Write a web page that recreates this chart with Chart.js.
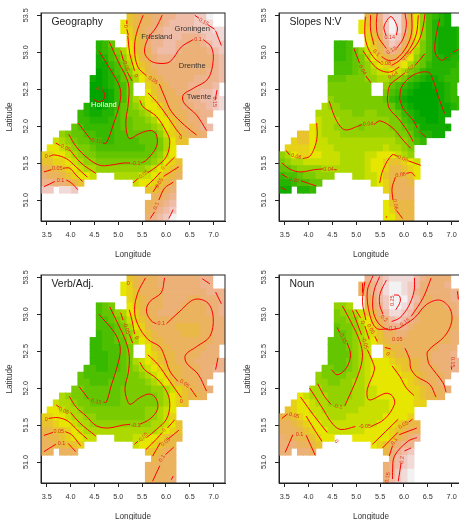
<!DOCTYPE html>
<html>
<head>
<meta charset="utf-8">
<style>
  html, body { margin: 0; background: #fff; width: 459px; height: 520px; overflow: hidden; position: relative; }
  canvas { position: absolute; filter: blur(0.3px); }
</style>
<script src="https://cdn.jsdelivr.net/npm/chart.js@4"></script>
</head>
<body>
<canvas id="mapaGeo" width="230" height="260" style="left:0;top:0"></canvas>
<canvas id="mapaSlopes" width="230" height="260" style="left:238px;top:0"></canvas>
<canvas id="mapaVerb" width="230" height="260" style="left:0;top:262px"></canvas>
<canvas id="mapaNoun" width="230" height="260" style="left:238px;top:262px"></canvas>
<script>
const xTicks = [3.5, 4.0, 4.5, 5.0, 5.5, 6.0, 6.5, 7.0];
const yTicks = [51.0, 51.5, 52.0, 52.5, 53.0, 53.5];

const lonCells = [3.444, 3.573, 3.701, 3.830, 3.959, 4.087, 4.216, 4.345, 4.473, 4.602, 4.731, 4.859, 4.988, 5.116, 5.245,
  5.374, 5.502, 5.631, 5.760, 5.888, 6.017, 6.146, 6.274, 6.403, 6.531, 6.660, 6.789, 6.917, 7.046, 7.175];
const latEdges = [53.530, 53.436, 53.342, 53.249, 53.155, 53.061, 52.967, 52.873, 52.780, 52.686, 52.592, 52.498, 52.404,
  52.311, 52.217, 52.123, 52.029, 51.935, 51.842, 51.748, 51.654, 51.560, 51.466, 51.373, 51.279, 51.185, 51.091, 50.997,
  50.904, 50.810, 50.716];

// terrain colours, the letters in the rows below are base 21 steps of this list
const terrain = ['#00a600', '#11ac00', '#24b300', '#37b900', '#4cbf00', '#63c600', '#7acc00', '#93d200', '#add900', '#c9df00',
  '#e6e600', '#e7d217', '#e8c32e', '#e9b846', '#ebb35e', '#ecb176', '#edb48e', '#eebca7', '#f0cac0', '#f1dbd9', '#f2f2f2'];

// one string per row of the grid, north to south, '.' = no data
const cellsGeo = [
  '..............cdeeffgghhhiik',
  '.............acdeeffghhhhiij',
  '.............abdeffghhhhhhiijj',
  '..............bcdfgghhhggghiij',
  '.........235..acdfgghhggffghii',
  '.........23468acdeghhhgffffghi',
  '.........124579bdefgggffffffgh',
  '.........113468acdffffffffffgh',
  '.........0124579bdeffffffffggh',
  '........10123568acdefffffggggh',
  '........0012346..bcdefffggggh',
  '........0001346..acdeeffgghhi',
  '........000134689abdeeefgghhij',
  '.......2101235678aabdeeffgghij',
  '......321122456678aacdeeffgg',
  '......3322234556678aacdeffg',
  '.....543333345566678abdeefgh',
  '...765544333445555579bcdeef',
  '..9876554433444455568acc',
  '.aa987665444444445568a',
  'bbaa98766555555555679a',
  'ccbba987766666666678abc',
  'eddcba9887777777789abcd',
  'feedcbaa9...888899abcde',
  'ggffedc........9aabcde',
  'ii.jji...........ccdef',
  '..................eefg',
  '.................eefgh',
  '.................efghi',
  '.................fghik'
];
const cellsSlopes = [
  '..............ddgijjgda74321',
  '.............acdfikjgda74221',
  '.............abdfikjgda7421112',
  '..............bcehjifca7421112',
  '.........334..acdgihec96421112',
  '.........334579bdfgfdb86421112',
  '.........334568acdedca75422122',
  '.........4445679abcba865322223',
  '.........444567899a98653222233',
  '........5556667788776432112333',
  '........6666666..754321001123',
  '........6666666..643210000123',
  '........7666666665321000001233',
  '.......87766666666532100001123',
  '......8887776677666532100011',
  '......988877777777664311001',
  '.....a9887777677776654311111',
  '...cca988877777777766532211',
  '..bcca998888888888877643',
  '.bbbba9998888888898876',
  '78abbaa999888899aaa987',
  '678899999988889aabccba9',
  '556777788888889aabddcba',
  '344566777...8899acdddca',
  '2234455........9abdeed',
  '11.223...........bdeee',
  '..................deee',
  '.................acddd',
  '.................abddd',
  '.................aacdd'
];
const cellsVerb = [
  '..............cdeeefffffffgg',
  '.............abdeeefffffffgg',
  '.............abceeeefffffffggg',
  '..............bcdeeeffffeefffg',
  '.........456..acdeeefffeeeeffg',
  '.........45578abdeefffeeeeeffg',
  '.........445679bcdeeeeeeeeeeff',
  '.........444568abdeeeeddddeeff',
  '.........3445679bcdeeeedddeeff',
  '........33445578abddeeeeeeeeff',
  '........3344456..acddeeeeeeff',
  '........3334456..abcddeeeefff',
  '........333445689abcddeeeffffg',
  '.......44334456789abcddeeeffgg',
  '......5444445566789abddeeeff',
  '......55444555666789acddeef',
  '.....66555555666667789bcdeef',
  '...876655555566666678abcdde',
  '..9887665555566666678abc',
  '.aa988766666666667789a',
  'bbaa98877666666667789b',
  'ccbaa9887777777777889ac',
  'ddccba98888888888889abc',
  'eddcbaa99...88899aabcdd',
  'eeddccb........9aabcdd',
  'ee.eee...........ccdee',
  '..................deee',
  '.................eeeee',
  '.................eeeee',
  '.................eeeef'
];
const cellsNoun = [
  '..............ghhijjjjhgffff',
  '.............efghjkkjihffffg',
  '.............efghjkkjigfffffgg',
  '..............efhikkkihfefffgg',
  '.........778..dfgikkjigfeeeffg',
  '.........67789cdfhjjihfeeeeefg',
  '.........66779acefhihgfeeeeeef',
  '.........56678abdfgggfeeeeeeef',
  '.........556789bceeffeeeeeeeff',
  '........5556789acdeeeeeeeeeeff',
  '........5556789..cddeeeeeefff',
  '........5555789..bcddeeeefffg',
  '........5556789aaabccddeefffgg',
  '.......66556789aaaabccdeeeffgg',
  '......766667789aaaaabbcdeeef',
  '......776677889aaaaaabcdeef',
  '.....88777778899aaaaabbcdeef',
  '...a988877778899aaaaaabcdde',
  '..baa9887778889999aaaabb',
  '.cbaa9988888899999aaaa',
  'ddcbaa99888999999aaaab',
  'eedcbaa999999999aaabcdd',
  'eeedcbaa999999aaaabcdee',
  'feeddcbaa...aaaaaabdefg',
  'fffeedc........abcefgg',
  'ff.ffe...........dfghi',
  '..................fhij',
  '.................fghij',
  '.................fgijk',
  '.................fhijk'
];

// contour pieces as lon,lat,lon,lat...
const linesGeo = [
  [5.18,53.43, 5.18,53.38], [5.18,53.31, 5.21,53.23],
  [5.05,53.02, 5.11,52.88], [5.19,52.73, 5.29,52.61],
  [5.20,53.22, 5.24,52.98, 5.31,52.82, 5.34,52.75],
  [5.52,53.50, 5.38,53.25, 5.34,53.03, 5.41,52.80, 5.59,52.68],
  [5.86,52.57, 5.97,52.40, 6.11,52.20, 6.39,52.01, 6.64,51.88],
  [5.92,53.50, 5.80,53.34, 5.62,53.18, 5.55,53.00, 5.66,52.89, 5.83,52.85, 6.08,52.87, 6.32,53.07, 6.57,53.17],
  [6.78,53.17, 6.95,53.07, 6.99,52.89, 6.88,52.64, 6.57,52.51, 6.36,52.42, 6.38,52.31, 6.64,52.15, 6.85,51.94],
  [5.62,52.45, 5.80,52.33, 6.01,52.15, 6.22,51.95, 6.31,51.88],
  [6.60,53.50, 6.69,53.46], [6.88,53.37, 7.02,53.31], [7.04,53.29, 7.16,53.09],
  [7.07,52.49, 7.03,52.35],
  [4.49,52.36, 4.58,52.33, 4.68,52.35, 4.72,52.42, 4.68,52.48],
  [4.59,53.02, 4.82,52.78, 5.04,52.51, 5.03,52.31, 4.89,52.01, 4.75,51.77, 4.68,51.77],
  [4.42,51.82, 4.16,52.04],
  [4.81,53.14, 5.00,52.87, 5.21,52.58, 5.21,52.31, 5.16,52.08, 5.18,51.90, 5.24,51.83, 5.45,51.90, 5.69,51.94, 5.80,51.88, 5.80,51.72, 5.59,51.54, 5.48,51.50],
  [5.25,51.50, 5.10,51.50, 4.82,51.47, 4.61,51.47, 4.37,51.56, 4.12,51.72, 3.96,51.89],
  [5.45,52.35, 5.52,52.26, 5.80,52.13, 6.01,51.92, 6.08,51.79, 6.01,51.59, 5.80,51.45, 5.62,51.37],
  [5.41,51.29, 5.31,51.23],
  [3.69,51.77, 3.77,51.74], [3.98,51.68, 4.22,51.50, 4.53,51.36],
  [3.55,51.59, 3.66,51.61, 3.91,51.56, 4.11,51.45, 4.35,51.31],
  [3.44,51.38, 3.60,51.41], [3.84,51.43, 3.98,51.43, 4.11,51.34, 4.25,51.25],
  [3.44,51.18, 3.67,51.25], [3.91,51.27, 4.02,51.23, 4.15,51.14],
  [5.58,51.18, 5.76,51.29, 5.89,51.38], [5.99,51.46, 6.18,51.58],
  [5.73,51.11, 5.83,51.21], [5.95,51.32, 6.27,51.45],
  [5.67,50.75, 5.76,50.84], [5.85,51.00, 5.97,51.16, 6.15,51.24],
  [6.06,50.75, 6.15,50.87]
];
const linesSlopes = [
  [5.62,53.23, 5.58,53.34, 5.67,53.455, 5.74,53.48, 5.86,53.34, 5.84,53.23],
  [5.44,53.53, 5.42,53.39, 5.46,53.21, 5.63,53.05], [5.84,53.05, 5.98,53.18, 6.05,53.37, 6.02,53.53],
  [5.30,53.50, 5.30,53.30, 5.37,53.10], [5.53,52.94, 5.67,52.89, 5.84,52.91, 6.05,53.07, 6.16,53.27, 6.16,53.52],
  [5.19,53.48, 5.18,53.23, 5.25,53.05, 5.39,52.91, 5.51,52.85], [5.74,52.82, 5.91,52.89, 6.12,53.05, 6.26,53.25, 6.30,53.50],
  [5.14,53.02, 5.28,52.89, 5.46,52.77, 5.70,52.73, 5.90,52.80], [6.12,52.99, 6.30,53.14, 6.40,53.34, 6.44,53.52],
  [4.95,53.05, 5.07,52.85], [5.20,52.68, 5.30,52.59],
  [5.91,52.37, 5.95,52.53, 6.19,52.69, 6.51,52.73, 6.61,52.62, 6.72,52.40, 6.85,52.17],
  [5.91,52.37, 5.98,52.24, 6.19,52.08, 6.28,51.97], [6.37,51.90, 6.46,51.85],
  [6.75,53.455, 6.67,53.21, 6.65,53.00, 6.78,52.89, 6.90,52.93], [7.03,53.00, 7.15,53.04],
  [6.91,51.99, 6.91,51.97],
  [5.65,52.37, 5.70,52.55, 5.88,52.65, 6.02,52.72], [6.23,52.82, 6.44,52.98],
  [5.65,52.37, 5.69,52.24, 5.91,52.08, 6.12,51.88, 6.19,51.79],
  [4.43,52.34, 4.58,52.08, 4.76,51.95, 5.04,52.00, 5.12,52.02],
  [5.37,52.02, 5.50,52.07, 5.77,51.97, 5.98,51.81, 6.14,51.70],
  [3.53,51.67, 3.60,51.61], [3.88,51.56, 4.02,51.59, 4.12,51.70, 4.18,51.86, 4.17,52.04],
  [3.44,51.50, 3.63,51.41, 3.84,51.38, 4.12,51.41, 4.30,51.42], [4.54,51.41, 4.59,51.41],
  [3.44,51.35, 3.56,51.30], [3.84,51.26, 4.16,51.19],
  [3.42,51.17, 3.53,51.135],
  [5.49,51.23, 5.56,51.41, 5.75,51.61, 5.88,51.59], [6.09,51.53, 6.35,51.47],
  [5.77,51.00, 5.75,51.16, 5.82,51.31], [6.05,51.36, 6.16,51.37, 6.23,51.32],
  [5.84,50.86, 5.97,50.75],
  [5.63,50.78, 5.63,50.76]
];
const linesVerb = [
  [5.23,53.06, 5.30,52.88, 5.34,52.73],
  [5.57,53.49, 5.41,53.29, 5.34,53.06, 5.41,52.86, 5.62,52.66, 5.87,52.56, 5.97,52.43, 6.08,52.23, 6.25,52.09],
  [6.51,52.00, 6.64,51.88],
  [5.97,53.49, 5.90,53.29, 5.66,53.17, 5.59,53.04, 5.69,52.91, 5.80,52.87],
  [6.01,52.87, 6.29,53.04, 6.60,53.20, 6.88,53.15, 6.99,52.95, 6.92,52.70, 6.64,52.56, 6.41,52.45, 6.43,52.34, 6.67,52.19, 6.85,51.96],
  [6.76,53.48, 6.92,53.41], [7.04,53.30, 7.16,53.14], [7.09,52.41, 7.04,52.25],
  [5.62,52.45, 5.83,52.32, 6.08,52.09, 6.32,51.87],
  [5.05,53.02, 5.10,52.92], [5.23,52.73, 5.30,52.61],
  [4.59,53.00, 4.92,52.75, 5.04,52.55, 4.99,52.32, 4.85,52.03, 4.75,51.81, 4.69,51.81],
  [4.38,51.85, 4.18,52.02],
  [4.82,53.10, 5.00,52.86, 5.16,52.63, 5.23,52.43, 5.21,52.21, 5.14,52.00, 5.18,51.85, 5.25,51.78, 5.45,51.87, 5.66,51.92, 5.80,51.85, 5.82,51.71, 5.66,51.58, 5.45,51.51],
  [5.25,51.51, 5.10,51.50, 4.79,51.46, 4.54,51.49, 4.33,51.62, 4.12,51.74, 3.97,51.89],
  [5.45,52.35, 5.55,52.25, 5.80,52.13, 6.01,51.96, 6.08,51.78, 6.01,51.58, 5.80,51.44, 5.59,51.33],
  [5.41,51.28, 5.34,51.24],
  [5.58,51.17, 5.80,51.31, 5.92,51.40], [6.03,51.46, 6.18,51.57],
  [5.72,51.08, 5.88,51.26], [6.04,51.31, 6.27,51.43],
  [5.72,50.74, 5.87,50.95], [5.99,51.10, 6.16,51.20],
  [6.11,50.76, 6.15,50.81],
  [3.70,51.77, 3.77,51.74], [4.00,51.67, 4.19,51.53, 4.53,51.35],
  [3.54,51.59, 3.74,51.60, 3.95,51.55, 4.16,51.42, 4.35,51.31],
  [3.44,51.36, 3.63,51.40], [3.89,51.41, 4.02,51.37, 4.21,51.22],
  [3.44,51.14, 3.69,51.24], [3.95,51.25, 4.11,51.14]
];
const linesNoun = [
  [5.79,53.26, 5.90,53.25, 5.92,53.17, 5.83,53.06],
  [5.63,53.46, 5.50,53.28, 5.49,53.13, 5.56,53.00], [5.74,52.90, 5.91,52.95, 6.09,53.10, 6.21,53.31, 6.22,53.49],
  [5.49,53.51, 5.37,53.31, 5.35,53.06, 5.46,52.88, 5.67,52.79, 5.88,52.81], [6.15,52.97, 6.40,53.22, 6.57,53.49],
  [5.35,53.52, 5.23,53.31, 5.28,53.00, 5.42,52.81, 5.67,52.80],
  [5.88,52.80, 6.22,52.95, 6.47,53.13, 6.75,53.19, 6.96,53.08, 7.00,52.90, 6.85,52.70, 6.50,52.50, 6.50,52.38, 6.53,52.32, 6.82,52.07, 6.88,51.95],
  [5.60,52.55, 5.72,52.53], [6.02,52.54, 6.12,52.39, 6.14,52.27, 6.26,52.16, 6.54,52.05, 6.67,51.88],
  [5.75,52.30, 5.91,52.16, 6.05,52.00, 6.21,51.90],
  [5.13,53.42, 5.13,53.29],
  [5.18,53.44, 5.13,53.17, 5.20,52.92], [5.39,52.70, 5.44,52.63],
  [4.99,53.06, 5.09,52.95], [5.18,52.84, 5.27,52.66],
  [4.92,53.05, 5.11,52.72], [5.23,52.52, 5.32,52.39, 5.38,52.25, 5.23,51.98, 5.27,51.84, 5.62,51.93, 5.76,51.89, 5.80,51.78, 5.59,51.58, 5.31,51.48],
  [4.98,51.48, 4.68,51.44, 4.51,51.51, 4.26,51.76, 4.02,52.00],
  [4.71,53.11, 4.90,52.88, 5.07,52.64, 5.13,52.43, 5.04,52.18, 4.76,51.76],
  [4.47,51.78, 4.33,51.89, 4.19,52.06],
  [3.83,51.88, 4.12,51.62, 4.39,51.40],
  [3.44,51.59, 3.56,51.65], [3.95,51.62, 4.12,51.44, 4.28,51.28],
  [3.51,51.13, 3.67,51.37], [3.95,51.36, 4.14,51.09],
  [5.34,51.24, 5.88,51.58],
  [5.55,51.19, 5.87,51.40], [6.10,51.54, 6.18,51.58],
  [5.69,51.08, 5.76,51.22], [5.90,51.37, 6.27,51.46],
  [5.76,50.77, 5.76,50.86, 5.80,51.08, 6.08,51.28, 6.27,51.33],
  [5.88,50.74, 5.94,50.99], [6.01,51.15, 6.15,51.19],
  [4.60,52.82, 4.65,52.75], [4.81,52.61, 4.88,52.45, 4.79,52.27, 4.60,52.18, 4.48,52.25],
  [7.00,52.25, 6.99,52.29], [7.12,53.31, 7.14,53.20]
];

// contour labels: text, lon, lat, angle
const labelsGeo = [
  ['0',5.18,53.35,-90], ['-0.05',5.16,52.82,70], ['0',5.37,52.68,60], ['0.05',5.73,52.62,35], ['0.1',6.67,53.17,0],
  ['0.15',6.79,53.41,30], ['0.15',7.02,52.33,90], ['0',6.31,51.84,0], ['-0.2',4.60,52.50,15], ['-0.15',4.53,51.80,10],
  ['-0.1',5.37,51.50,0], ['-0.05',5.52,51.34,-40], ['-0.05',3.88,51.71,25], ['0',3.49,51.59,0], ['0.05',3.72,51.42,0],
  ['0.1',3.79,51.26,0], ['0',5.94,51.43,-45], ['0.05',5.86,51.23,-60], ['0.1',5.80,50.92,-70]
];
const labelsSlopes = [
  ['0.14',5.70,53.20,0], ['0.12',5.74,53.02,-30], ['0.1',5.42,52.99,45], ['0.08',5.62,52.84,0], ['0.06',6.05,52.95,-45],
  ['0.04',5.13,52.76,60], ['0.04',5.77,52.69,-30], ['0.02',6.12,52.77,-40], ['0',6.98,52.96,-30], ['0',6.33,51.92,50],
  ['0.04',5.25,52.03,-5], ['0.06',3.74,51.59,15], ['0.04',4.42,51.41,0], ['0.02',3.70,51.27,15], ['0.06',5.98,51.56,20],
  ['0.08',5.93,51.34,-10], ['0.06',5.82,50.94,80]
];
const labelsVerb = [
  ['0',5.21,53.41,0], ['-0.05',5.17,52.81,70], ['0',5.38,52.68,60], ['0.1',5.90,52.87,0], ['0.05',6.39,52.06,35],
  ['0',6.32,51.82,0], ['-0.15',4.52,51.82,10], ['-0.1',5.37,51.50,0], ['-0.05',5.52,51.33,-45], ['-0.05',3.84,51.70,25],
  ['0',3.49,51.58,0], ['0.05',3.75,51.41,0], ['0.1',3.81,51.25,0], ['0',5.96,51.43,-45], ['0.05',5.99,51.27,-40], ['0.1',5.92,51.05,-60]
];
const labelsNoun = [
  ['0.25',5.76,53.18,-90], ['0.2',5.58,52.94,40], ['0.15',6.02,52.89,-35], ['0.1',5.77,52.80,0], ['0.05',5.86,52.66,0],
  ['0.15',7.01,52.35,90], ['0',5.66,52.46,45], ['0.05',5.30,52.80,60], ['0',5.13,52.89,70], ['-0.05',5.18,52.61,75],
  ['-0.1',4.61,51.75,5], ['-0.05',5.18,51.48,0], ['0',4.58,51.28,55], ['0.05',3.70,51.63,15], ['0.1',3.81,51.37,0],
  ['0.05',5.99,51.50,-30], ['0.1',5.80,51.28,-55], ['0.2',5.96,51.03,-85], ['0.15',5.66,50.79,-80], ['-0.15',4.72,52.68,65]
];

// place names on the first panel
const namesGeo = [['Friesland',5.81,53.20,'#333'], ['Groningen',6.55,53.32,'#333'], ['Drenthe',6.55,52.81,'#333'],
  ['Twente',6.69,52.40,'#333'], ['Holland',4.70,52.29,'#fff']];

const fontName = '"Liberation Sans", Arial, sans-serif';

// text on the map and the box round it
const mapaTextos = {
  id: 'mapaTextos',
  afterDatasetsDraw(chart, args, opts) {
    const ctx = chart.ctx, sx = chart.scales.x, sy = chart.scales.y, area = chart.chartArea;
    ctx.save();
    ctx.textAlign = 'center';
    ctx.textBaseline = 'middle';
    ctx.font = '5.4px ' + fontName;
    ctx.fillStyle = '#e2301c';
    opts.labels.forEach(l => {
      ctx.save();
      ctx.translate(sx.getPixelForValue(l[1]), sy.getPixelForValue(l[2]));
      ctx.rotate(l[3] * Math.PI / 180);
      ctx.fillText(l[0], 0, 0);
      ctx.restore();
    });
    ctx.font = '7.6px ' + fontName;
    opts.names.forEach(n => {
      ctx.fillStyle = n[3];
      ctx.fillText(n[0], sx.getPixelForValue(n[1]), sy.getPixelForValue(n[2]));
    });
    ctx.textAlign = 'left';
    ctx.font = '10.4px ' + fontName;
    ctx.fillStyle = '#222';
    ctx.fillText(opts.title, sx.getPixelForValue(3.6), sy.getPixelForValue(53.405));
    ctx.strokeStyle = '#222';
    ctx.lineWidth = 1;
    ctx.strokeRect(area.left, area.top, area.right - area.left, area.bottom - area.top);
    ctx.restore();
  }
};

function dibujarMapa(id, titulo, filas, lineas, etiquetas, nombres) {
  const celdas = [], colores = [];
  filas.forEach((fila, j) => {
    [...fila].forEach((c, i) => {
      if (c === '.') return;
      celdas.push({ x: lonCells[i], y: [latEdges[j + 1], latEdges[j]] });
      colores.push(terrain[parseInt(c, 21)]);
    });
  });

  const datasets = [{
    type: 'bar',
    data: celdas,
    backgroundColor: colores,
    borderWidth: 0,
    barThickness: 6.3,
    grouped: false,
    order: 2
  }];
  lineas.forEach(l => {
    const puntos = [];
    for (let i = 0; i < l.length; i += 2) puntos.push({ x: l[i], y: l[i + 1] });
    datasets.push({
      type: 'line',
      data: puntos,
      borderColor: '#f00',
      borderWidth: 1,
      pointRadius: 0,
      tension: 0.35,
      fill: false,
      order: 1
    });
  });

  new Chart(document.getElementById(id), {
    type: 'bar',
    data: { datasets },
    plugins: [mapaTextos],
    options: {
      responsive: false,
      animation: false,
      events: [],
      layout: { padding: { top: 13, right: 5, left: 0, bottom: 0 } },
      plugins: {
        legend: { display: false },
        tooltip: { enabled: false },
        mapaTextos: { labels: etiquetas, names: nombres, title: titulo }
      },
      scales: {
        x: {
          type: 'linear',
          offset: false,
          min: 3.38,
          max: 7.237,
          afterBuildTicks: s => { s.ticks = xTicks.map(v => ({ value: v })); },
          afterFit: s => { s.height = 39; },
          grid: { offset: false, drawOnChartArea: false, color: '#222', tickLength: 4 },
          border: { color: '#222', width: 1 },
          ticks: { color: '#333', padding: 6, maxRotation: 0, font: { size: 7.3, family: fontName }, callback: v => v.toFixed(1) },
          title: { display: true, text: 'Longitude', color: '#333', padding: { top: 5, bottom: 0 }, font: { size: 8.2, family: fontName } }
        },
        y: {
          type: 'linear',
          min: 50.716,
          max: 53.53,
          afterBuildTicks: s => { s.ticks = yTicks.map(v => ({ value: v })); },
          afterFit: s => { s.width = 41; },
          grid: { drawOnChartArea: false, color: '#222', tickLength: 4 },
          border: { color: '#222', width: 1 },
          ticks: { color: '#333', padding: 4, minRotation: 90, maxRotation: 90, crossAlign: 'center', font: { size: 7.3, family: fontName }, callback: v => v.toFixed(1) },
          title: { display: true, text: 'Latitude', color: '#333', padding: { top: 5, bottom: 0 }, font: { size: 8.2, family: fontName } }
        }
      }
    }
  });
}

dibujarMapa('mapaGeo', 'Geography', cellsGeo, linesGeo, labelsGeo, namesGeo);
dibujarMapa('mapaSlopes', 'Slopes N:V', cellsSlopes, linesSlopes, labelsSlopes, []);
dibujarMapa('mapaVerb', 'Verb/Adj.', cellsVerb, linesVerb, labelsVerb, []);
dibujarMapa('mapaNoun', 'Noun', cellsNoun, linesNoun, labelsNoun, []);
</script>
</body>
</html>
